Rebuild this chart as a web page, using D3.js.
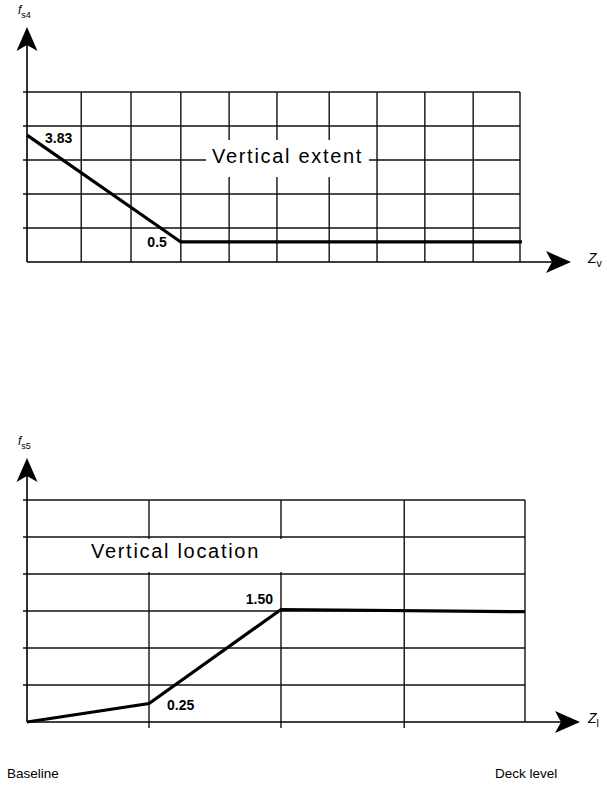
<!DOCTYPE html>
<html>
<head>
<meta charset="utf-8">
<script src="https://cdn.jsdelivr.net/npm/d3@7/dist/d3.min.js"></script>
<style>
  html, body { margin: 0; padding: 0; background: #fff; }
  svg { display: block; font-family: "Liberation Sans", Arial, sans-serif; }
</style>
</head>
<body>
<svg id="chart" width="607" height="785"></svg>
<script>
// ---------- data ----------
// Top panel: f_s4 versus vertical extent Z_v
const topGridX = [0, 1.1, 2.11, 3.12, 4.1, 5.07, 6.13, 7.1, 8.07, 9.05, 10];
const topGridY = [1, 2, 3, 4, 5];
const topX = [0, 3.12, 10.04];
const topY = [3.73, 0.59, 0.59];
const topLabels = ["3.83", "0.5"];
const topTitle = "Vertical extent";

// Bottom panel: f_s5 versus vertical location Z_l
const botGridX = [0, 0.98, 2.04, 3.03, 4];
const botGridY = [0.5, 1.0, 1.5, 2.0, 2.5, 3.0];
const botX = [0, 0.98, 2.04, 4];
const botY = [0, 0.25, 1.52, 1.49];
const botLabels = ["1.50", "0.25"];
const botTitle = "Vertical location";
const botEnds = ["Baseline", "Deck level"];

// ---------- drawing ----------
const svg = d3.select("#chart");

function arrowUp(g, x, tipY) {
  g.append("path")
    .attr("d", `M${x},${tipY} L${x + 10.5},${tipY + 24} L${x},${tipY + 18} L${x - 10.5},${tipY + 24} Z`)
    .attr("fill", "#000");
}
function arrowRight(g, tipX, y) {
  g.append("path")
    .attr("d", `M${tipX},${y} L${tipX - 25},${y - 11} L${tipX - 19},${y} L${tipX - 25},${y + 11} Z`)
    .attr("fill", "#000");
}
function italicLabel(g, x, y, main, sub, size) {
  const t = g.append("text").attr("x", x).attr("y", y)
    .attr("font-size", size).attr("fill", "#000");
  t.append("tspan").attr("font-style", "italic").text(main);
  t.append("tspan").attr("font-size", size * 0.75).attr("dy", size * 0.3).text(sub);
}

function panel(cfg) {
  const g = svg.append("g");
  const x = d3.scaleLinear().domain(cfg.xDomain).range([cfg.left, cfg.right]);
  const y = d3.scaleLinear().domain(cfg.yDomain).range([cfg.bottom, cfg.top]);

  // horizontal grid lines (with small stub left of the axis)
  g.selectAll(null).data(cfg.gridY).join("line")
    .attr("x1", cfg.left - 4).attr("x2", x(cfg.xDomain[1]))
    .attr("y1", d => y(d)).attr("y2", d => y(d))
    .attr("stroke", "#111").attr("stroke-width", 1.4);

  // vertical grid lines
  g.selectAll(null).data(cfg.gridX.slice(1)).join("line")
    .attr("x1", d => x(d)).attr("x2", d => x(d))
    .attr("y1", y(cfg.yDomain[1])).attr("y2", (d, i, n) => cfg.bottom + (i < n.length - 1 ? cfg.tickBelow : 0))
    .attr("stroke", "#111").attr("stroke-width", 1.4);

  // white box behind title
  g.append("rect")
    .attr("x", cfg.box[0]).attr("y", cfg.box[1])
    .attr("width", cfg.box[2]).attr("height", cfg.box[3])
    .attr("fill", "#fff");
  g.append("text")
    .attr("x", cfg.titlePos[0]).attr("y", cfg.titlePos[1])
    .attr("font-size", 20).attr("letter-spacing", "1.7px")
    .attr("fill", "#000").text(cfg.title);

  // axes
  g.append("line")
    .attr("x1", cfg.left).attr("x2", cfg.left)
    .attr("y1", cfg.yTip + 10).attr("y2", cfg.bottom)
    .attr("stroke", "#000").attr("stroke-width", 1.6);
  arrowUp(g, cfg.left, cfg.yTip);
  g.append("line")
    .attr("x1", cfg.left).attr("x2", cfg.xTip - 10)
    .attr("y1", cfg.bottom).attr("y2", cfg.bottom)
    .attr("stroke", "#000").attr("stroke-width", 1.6);
  arrowRight(g, cfg.xTip, cfg.bottom);

  // data line
  const pts = cfg.xs.map((d, i) => [d, cfg.ys[i]]);
  g.append("path")
    .attr("d", d3.line().x(d => x(d[0])).y(d => y(d[1]))(pts))
    .attr("fill", "none").attr("stroke", "#000").attr("stroke-width", 3.2)
    .attr("stroke-linejoin", "miter");

  // value labels
  cfg.labels.forEach(l => {
    const p = pts[l.i];
    g.append("text")
      .attr("x", x(p[0]) + l.dx).attr("y", y(p[1]) + l.dy)
      .attr("text-anchor", l.anchor)
      .attr("font-size", 14).attr("font-weight", "bold")
      .attr("fill", "#000").text(l.text);
  });

  italicLabel(g, cfg.left - 9, cfg.yTip - 13, "f", cfg.yName, 12);
  italicLabel(g, cfg.xTip + cfg.zGap, cfg.bottom + 1, "Z", cfg.xName, 14);
  return { g, x, y };
}

panel({
  left: 27, right: 520, top: 92, bottom: 262,
  xDomain: [0, 10], yDomain: [0, 5],
  gridX: topGridX, gridY: topGridY, tickBelow: 0,
  xs: topX, ys: topY,
  yTip: 27, xTip: 571, zGap: 17,
  box: [206, 140, 163, 37], titlePos: [212, 163], title: topTitle,
  labels: [
    { i: 0, text: topLabels[0], dx: 18, dy: 8, anchor: "start" },
    { i: 1, text: topLabels[1], dx: -14, dy: 5, anchor: "end" }
  ],
  yName: "s4", xName: "v"
});

panel({
  left: 27, right: 525, top: 500, bottom: 722,
  xDomain: [0, 4], yDomain: [0, 3],
  gridX: botGridX, gridY: botGridY, tickBelow: 6,
  xs: botX, ys: botY,
  yTip: 458, xTip: 580, zGap: 8,
  box: [85, 539, 205, 33], titlePos: [91, 558], title: botTitle,
  labels: [
    { i: 2, text: botLabels[0], dx: -8, dy: -6, anchor: "end" },
    { i: 1, text: botLabels[1], dx: 18, dy: 6, anchor: "start" }
  ],
  yName: "s5", xName: "l"
});

svg.append("text").attr("x", 7).attr("y", 778)
  .attr("font-size", 13.5).attr("fill", "#000").text(botEnds[0]);
svg.append("text").attr("x", 495).attr("y", 778)
  .attr("font-size", 13.5).attr("fill", "#000").text(botEnds[1]);
</script>
</body>
</html>
